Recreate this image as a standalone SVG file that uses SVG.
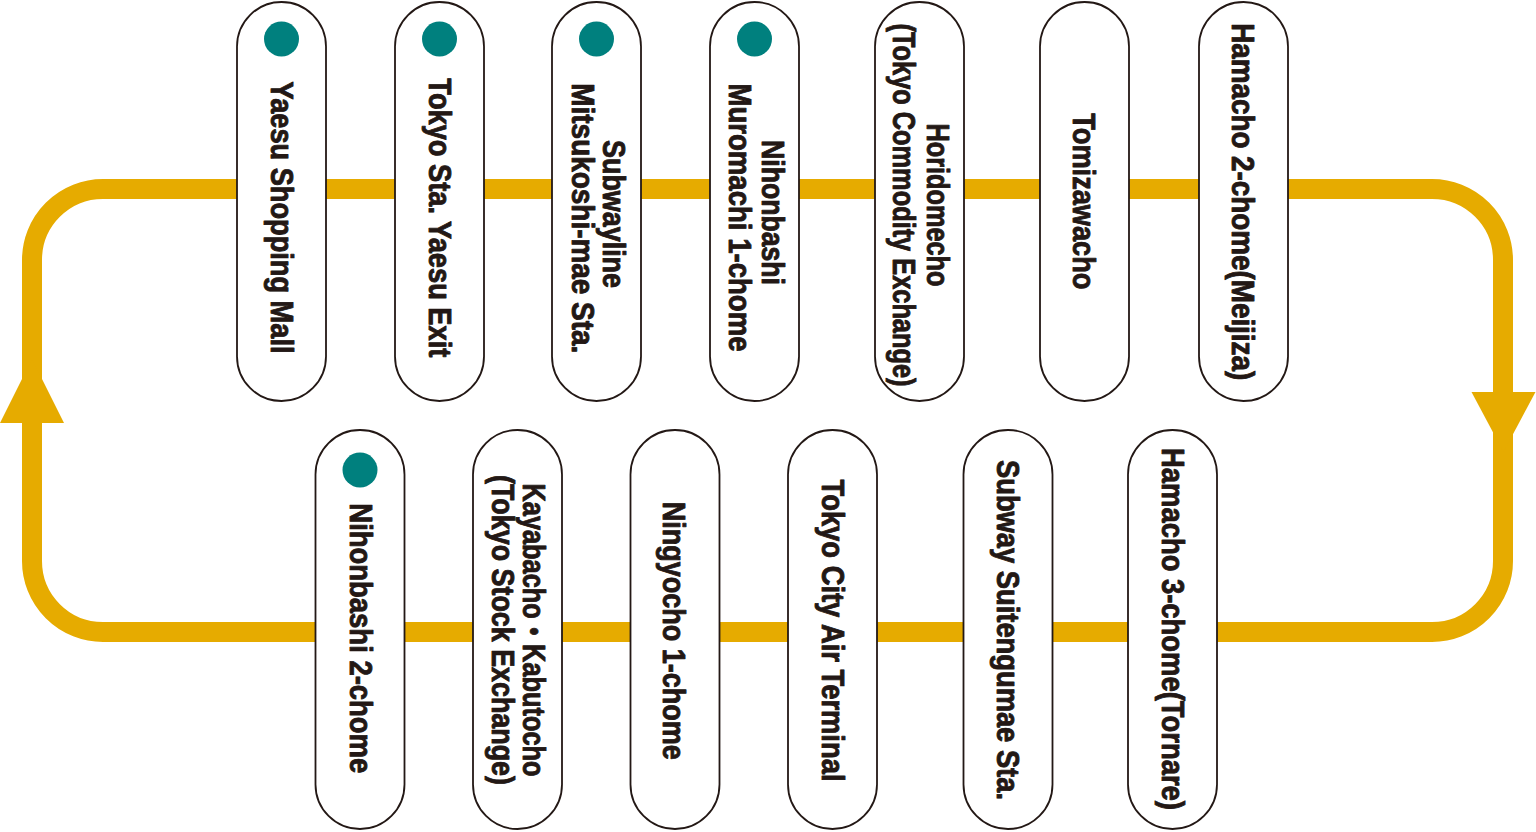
<svg xmlns="http://www.w3.org/2000/svg" width="1536" height="832" viewBox="0 0 1536 832">
<style>
.pill{fill:#fff;stroke:#231815;stroke-width:1.8}
.dot{fill:#00807E}
.lbl{font-family:"Liberation Sans","Noto Sans CJK JP",sans-serif;font-weight:bold;font-size:30.5px;fill:#231815;stroke:#231815;stroke-width:0.9;stroke-linejoin:round;text-anchor:middle}
.track{fill:none;stroke:#E6AB00;stroke-width:20}
.head{fill:#E6AB00}
</style>
<rect width="1536" height="832" fill="#fff"/>
<g id="connectors">
<path class="track" d="M103 189 H1432 A71 71 0 0 1 1503 260 V561 A71 71 0 0 1 1432 632 H103 A71 71 0 0 1 32 561 V260 A71 71 0 0 1 103 189 Z"/>
<polygon class="head" points="32,359 0,423 64,423"/>
<polygon class="head" points="1471.5,392 1535.5,392 1503.5,452"/>
</g>
<g id="n1">
<rect class="pill" x="237" y="2" width="89" height="399" rx="44.5"/>
<circle class="dot" cx="281.5" cy="39" r="17.5"/>
<text class="lbl" transform="translate(270.7,217.5) rotate(90)" textLength="272" lengthAdjust="spacingAndGlyphs">Yaesu Shopping Mall</text>
</g>
<g id="n2">
<rect class="pill" x="395" y="2" width="89" height="399" rx="44.5"/>
<circle class="dot" cx="439.5" cy="39" r="17.5"/>
<text class="lbl" transform="translate(429.3,217.8) rotate(90)" textLength="279" lengthAdjust="spacingAndGlyphs">Tokyo Sta. Yaesu Exit</text>
</g>
<g id="n3">
<rect class="pill" x="552" y="2" width="89" height="399" rx="44.5"/>
<circle class="dot" cx="596.5" cy="39" r="17.5"/>
<text class="lbl" transform="translate(603.3,214) rotate(90)" textLength="148" lengthAdjust="spacingAndGlyphs">Subwayline</text>
<text class="lbl" transform="translate(571.7,218.3) rotate(90)" textLength="270" lengthAdjust="spacingAndGlyphs">Mitsukoshi-mae Sta.</text>
</g>
<g id="n4">
<rect class="pill" x="710" y="2" width="89" height="399" rx="44.5"/>
<circle class="dot" cx="754.5" cy="39" r="17.5"/>
<text class="lbl" transform="translate(761.7,212.5) rotate(90)" textLength="145" lengthAdjust="spacingAndGlyphs">Nihonbashi</text>
<text class="lbl" transform="translate(729.3,217.5) rotate(90)" textLength="268" lengthAdjust="spacingAndGlyphs">Muromachi 1-chome</text>
</g>
<g id="n5">
<rect class="pill" x="875" y="2" width="89" height="399" rx="44.5"/>
<text class="lbl" transform="translate(926.7,205) rotate(90)" textLength="163" lengthAdjust="spacingAndGlyphs">Horidomecho</text>
<text class="lbl" transform="translate(893.3,205) rotate(90)" textLength="363" lengthAdjust="spacingAndGlyphs">(Tokyo Commodity Exchange)</text>
</g>
<g id="n6">
<rect class="pill" x="1040" y="2" width="89" height="399" rx="44.5"/>
<text class="lbl" transform="translate(1073.3,201.3) rotate(90)" textLength="176" lengthAdjust="spacingAndGlyphs">Tomizawacho</text>
</g>
<g id="n7">
<rect class="pill" x="1199" y="2" width="89" height="399" rx="44.5"/>
<text class="lbl" transform="translate(1232.3,201.7) rotate(90)" textLength="357" lengthAdjust="spacingAndGlyphs">Hamacho 2-chome(Meijiza)</text>
</g>
<g id="n8">
<rect class="pill" x="315.5" y="430" width="89" height="399" rx="44.5"/>
<circle class="dot" cx="360" cy="470" r="17.5"/>
<text class="lbl" transform="translate(350,638.3) rotate(90)" textLength="270" lengthAdjust="spacingAndGlyphs">Nihonbashi 2-chome</text>
</g>
<g id="n9">
<rect class="pill" x="473" y="430" width="89" height="399" rx="44.5"/>
<text class="lbl" transform="translate(522.7,630) rotate(90)" textLength="293" lengthAdjust="spacingAndGlyphs">Kayabacho・Kabutocho</text>
<text class="lbl" transform="translate(491.7,630) rotate(90)" textLength="310" lengthAdjust="spacingAndGlyphs">(Tokyo Stock Exchange)</text>
</g>
<g id="n10">
<rect class="pill" x="630.5" y="430" width="89" height="399" rx="44.5"/>
<text class="lbl" transform="translate(663.3,630.8) rotate(90)" textLength="258" lengthAdjust="spacingAndGlyphs">Ningyocho 1-chome</text>
</g>
<g id="n11">
<rect class="pill" x="788" y="430" width="89" height="399" rx="44.5"/>
<text class="lbl" transform="translate(821.7,630.5) rotate(90)" textLength="302" lengthAdjust="spacingAndGlyphs">Tokyo City Air Terminal</text>
</g>
<g id="n12">
<rect class="pill" x="963.5" y="430" width="89" height="399" rx="44.5"/>
<text class="lbl" transform="translate(997.3,630) rotate(90)" textLength="340" lengthAdjust="spacingAndGlyphs">Subway Suitengumae Sta.</text>
</g>
<g id="n13">
<rect class="pill" x="1128" y="430" width="89" height="399" rx="44.5"/>
<text class="lbl" transform="translate(1161.7,629) rotate(90)" textLength="362" lengthAdjust="spacingAndGlyphs">Hamacho 3-chome(Tornare)</text>
</g>
</svg>
